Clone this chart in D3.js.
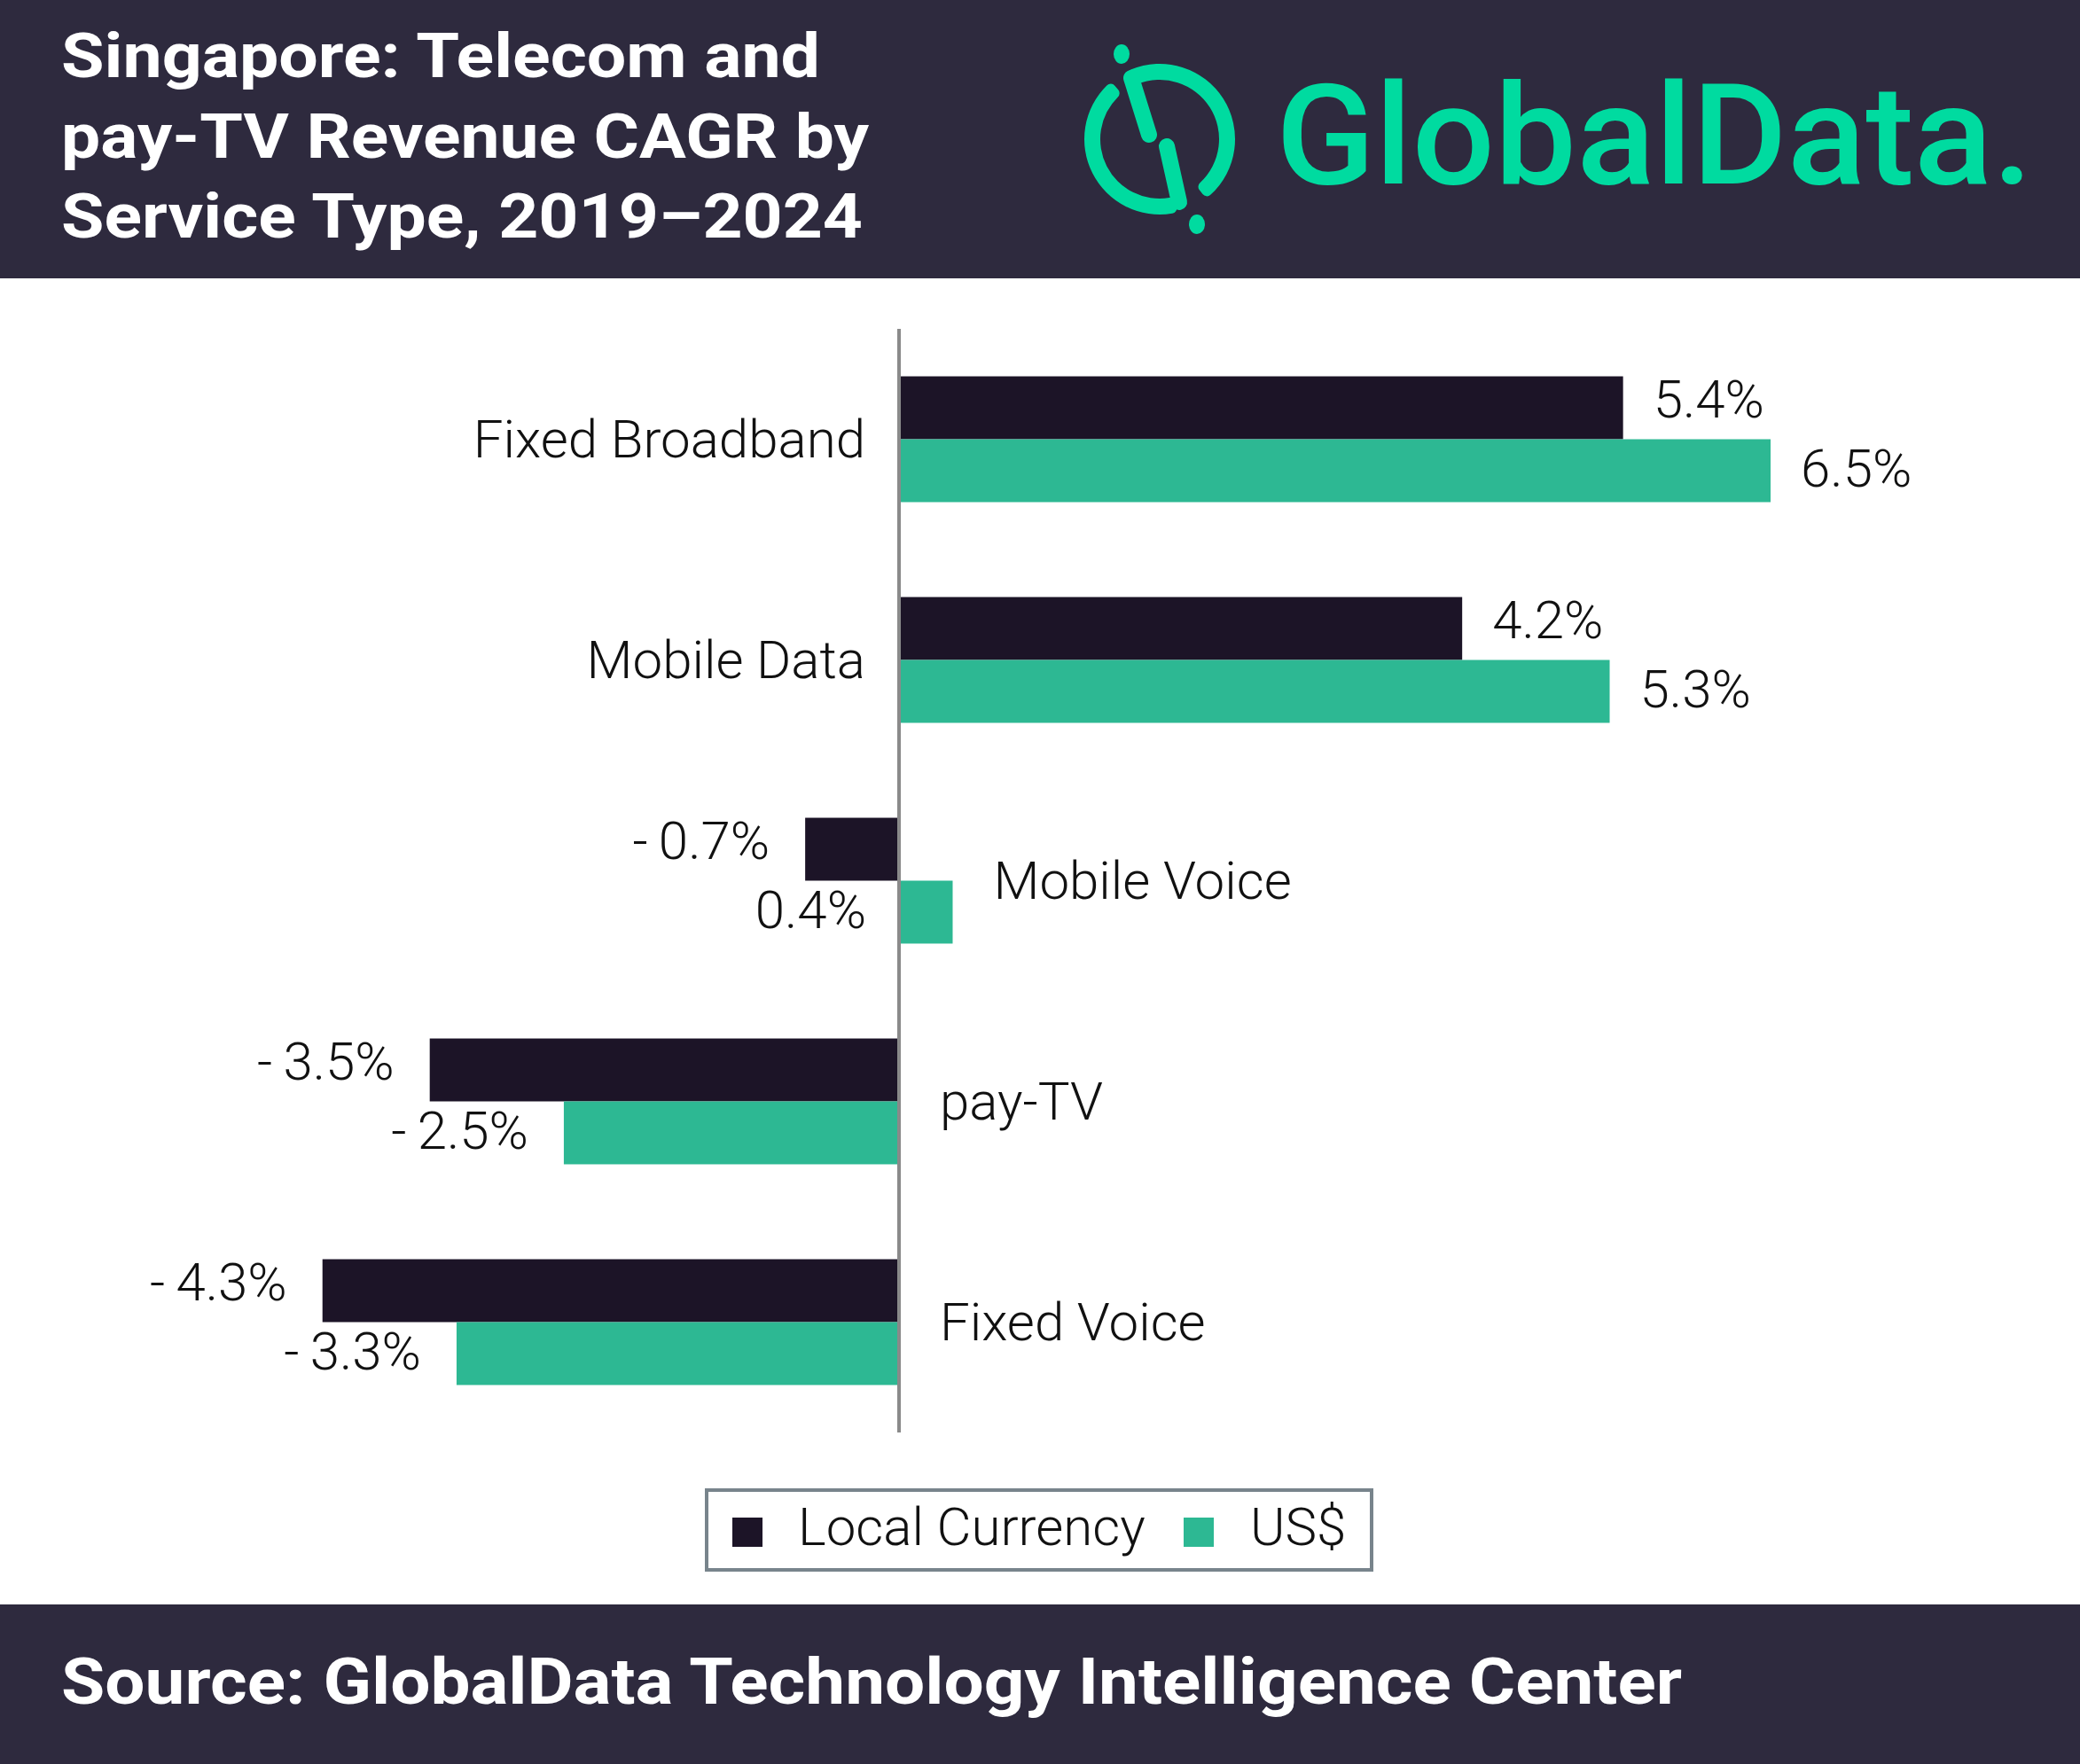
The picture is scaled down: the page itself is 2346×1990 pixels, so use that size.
<!DOCTYPE html>
<html>
<head>
<meta charset="utf-8">
<script src="https://cdn.jsdelivr.net/npm/d3@7"></script>
<style>
  body { margin: 0; background: #fff; }
  svg { display: block; }
  text { font-family: Roboto, "Noto Sans", sans-serif; }
</style>
</head>
<body>
<div id="chart"></div>
<script>
// chart data
const categories = ['Fixed Broadband', 'Mobile Data', 'Mobile Voice', 'pay-TV', 'Fixed Voice'];
const localCurrency = [5.4, 4.2, -0.7, -3.5, -4.3];
const usDollar = [6.5, 5.3, 0.4, -2.5, -3.3];
const seriesNames = ['Local Currency', 'US$'];
const titleLines = ['Singapore: Telecom and', 'pay-TV Revenue CAGR by', 'Service Type, 2019\u20132024'];
const sourceText = 'Source: GlobalData Technology Intelligence Center';

const W = 2346, H = 1990;
const colors = {local: '#1c1427', usd: '#2db893', band: '#2e2a3e', brand: '#00dba0', axis: '#8a8a8a'};

const svg = d3.select('#chart').append('svg')
    .attr('width', W)
    .attr('height', H);

// header + footer bands
svg.append('rect').attr('x', 0).attr('y', 0).attr('width', W).attr('height', 314).attr('fill', colors.band);
svg.append('rect').attr('x', 0).attr('y', 1810).attr('width', W).attr('height', H - 1810).attr('fill', colors.band);

const titleWidths = [856, 911, 904];
svg.append('g').selectAll('text')
    .data(titleLines)
    .enter().append('text')
    .attr('x', 69)
    .attr('y', (d, i) => 87 + i * 90.5)
    .attr('fill', '#fff')
    .attr('font-size', 70)
    .attr('font-weight', 700)
    .attr('textLength', (d, i) => titleWidths[i])
    .attr('lengthAdjust', 'spacingAndGlyphs')
    .text(d => d);

svg.append('text')
    .attr('x', 69)
    .attr('y', 1922)
    .attr('fill', '#fff')
    .attr('font-size', 72)
    .attr('font-weight', 700)
    .attr('textLength', 1828)
    .attr('lengthAdjust', 'spacingAndGlyphs')
    .text(sourceText);

// logo
const logo = svg.append('g');
const cx = 1308, cy = 157, r = 76, sw = 18;
const ringArc = d3.arc().innerRadius(r - sw / 2).outerRadius(r + sw / 2).cornerRadius(6);
const deg = Math.PI / 180;
[[-27, 142], [166, 320]].forEach(([a0, a1]) => {
    logo.append('path')
        .attr('transform', `translate(${cx},${cy})`)
        .attr('d', ringArc({startAngle: a0 * deg, endAngle: a1 * deg}))
        .attr('fill', colors.brand);
});
[[1276, 88, 1296, 152], [1316, 165, 1330, 228]].forEach(([x1, y1, x2, y2]) => {
    logo.append('line')
        .attr('x1', x1).attr('y1', y1).attr('x2', x2).attr('y2', y2)
        .attr('stroke', colors.brand)
        .attr('stroke-width', sw)
        .attr('stroke-linecap', 'round');
});
logo.append('ellipse').attr('cx', 1265).attr('cy', 61).attr('rx', 9).attr('ry', 11).attr('fill', colors.brand);
logo.append('ellipse').attr('cx', 1350).attr('cy', 253).attr('rx', 9).attr('ry', 11).attr('fill', colors.brand);
logo.append('text')
    .attr('x', 1439)
    .attr('y', 207)
    .attr('fill', colors.brand)
    .attr('font-family', '"Noto Sans", sans-serif')
    .attr('font-size', 158)
    .attr('font-weight', 500)
    .attr('textLength', 854)
    .attr('lengthAdjust', 'spacingAndGlyphs')
    .text('GlobalData.');

// scales
const x = d3.scaleLinear()
    .domain([0, 6.5])
    .range([1014, 1997]);

const y = d3.scaleBand()
    .domain(categories)
    .range([371, 1616])
    .paddingInner(0.43)
    .paddingOuter(0.215);

const ySub = d3.scaleBand()
    .domain(['local', 'usd'])
    .range([0, y.bandwidth()]);

const rows = categories.map((c, i) => ({
    category: c,
    values: [
        {key: 'local', value: localCurrency[i]},
        {key: 'usd', value: usDollar[i]}
    ]
}));

const groups = svg.append('g').selectAll('g')
    .data(rows)
    .enter().append('g')
    .attr('transform', d => `translate(0,${y(d.category)})`);

groups.selectAll('rect')
    .data(d => d.values)
    .enter().append('rect')
    .attr('x', d => Math.min(x(0), x(d.value)))
    .attr('y', d => ySub(d.key))
    .attr('width', d => Math.abs(x(d.value) - x(0)))
    .attr('height', ySub.bandwidth())
    .attr('fill', d => colors[d.key]);

// value labels (hyphen + thin space, as in the original)
const fmt = v => v < 0 ? `-\u2009${Math.abs(v).toFixed(1)}%` : `${v.toFixed(1)}%`;
const labelSize = 60;
groups.each(function(row) {
    const g = d3.select(this);
    const hasNeg = row.values.some(v => v.value < 0);
    row.values.forEach(v => {
        const t = g.append('text')
            .attr('y', ySub(v.key) + ySub.bandwidth() / 2 + (v.key === 'local' ? -10 : -2))
            .attr('dominant-baseline', 'central')
            .attr('font-size', labelSize)
            .attr('font-weight', 300)
            .attr('fill', '#111')
            .text(fmt(v.value));
        if (!hasNeg) {
            t.attr('x', x(v.value) + 34).attr('text-anchor', 'start');
        } else if (v.value < 0) {
            t.attr('x', x(v.value) - 40).attr('text-anchor', 'end');
        } else {
            t.attr('x', x(0) - 37).attr('text-anchor', 'end');
        }
    });

    // category label
    const maxVal = d3.max(row.values, v => v.value);
    const lab = g.append('text')
        .attr('y', y.bandwidth() / 2)
        .attr('dominant-baseline', 'central')
        .attr('font-size', labelSize)
        .attr('font-weight', 300)
        .attr('fill', '#111')
        .text(row.category);
    if (!hasNeg) {
        lab.attr('x', x(0) - 38).attr('text-anchor', 'end');
    } else {
        lab.attr('x', x(Math.max(0, maxVal)) + 46).attr('text-anchor', 'start');
    }
});

// zero axis line
svg.append('line')
    .attr('x1', x(0)).attr('x2', x(0))
    .attr('y1', y.range()[0]).attr('y2', y.range()[1])
    .attr('stroke', colors.axis)
    .attr('stroke-width', 4);

// legend
const legend = svg.append('g');
legend.append('rect')
    .attr('x', 797).attr('y', 1681)
    .attr('width', 750).attr('height', 90)
    .attr('fill', '#fff')
    .attr('stroke', '#78848c')
    .attr('stroke-width', 4);
const legendX = [826, 1335];
const legendTextX = [900, 1410];
seriesNames.forEach((name, i) => {
    legend.append('rect')
        .attr('x', legendX[i]).attr('y', 1712)
        .attr('width', 34).attr('height', 33)
        .attr('fill', i === 0 ? colors.local : colors.usd);
    legend.append('text')
        .attr('x', legendTextX[i])
        .attr('y', 1743)
        .attr('font-size', 60)
        .attr('font-weight', 300)
        .attr('fill', '#111')
        .text(name);
});
</script>
</body>
</html>
